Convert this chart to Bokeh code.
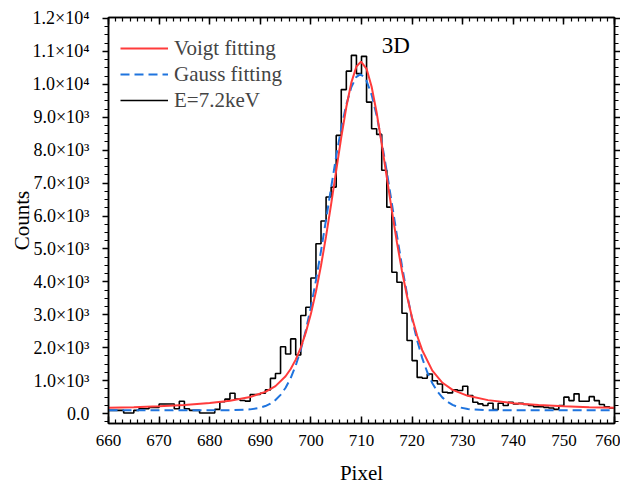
from bokeh.plotting import figure
from bokeh.models import (Range1d, LinearAxis, SingleIntervalTicker, Legend, LegendItem, Label)
from bokeh.embed import file_html
from bokeh.resources import INLINE

# ---- data ----
pixel_edges = list(range(660, 761))
counts = [100, 100, 100, 20, 20, 100, 150, 150, 190, 190,
          290, 290, 290, 150, 375, 150, 100, 100, 20, 20,
          20, 130, 360, 440, 620, 440, 400, 380, 580, 580,
          620, 720, 1070, 1220, 2030, 1810, 2270, 1780, 2980, 3230,
          4120, 5160, 5850, 6580, 6880, 8450, 9840, 10400, 10880, 10325,
          10850, 9460, 8650, 8480, 7390, 6270, 4295, 3990, 3050, 2220,
          1610, 1100, 1075, 1205, 1000, 900, 650, 630, 720, 700,
          830, 550, 345, 295, 245, 315, 120, 315, 245, 345,
          295, 315, 275, 245, 210, 210, 190, 170, 130, 245,
          500, 395, 600, 375, 375, 515, 395, 275, 210, 170]
counts_step = counts + [counts[-1]]

voigt_x = [660, 665, 670, 675, 680, 684, 688, 691, 693, 695, 696, 697, 698, 699,
           700, 701, 702, 703, 704, 705, 706, 707, 708, 709, 709.9, 711, 712, 713,
           714, 715, 716, 717, 718, 719, 720, 721, 722, 724, 726, 728, 731, 735,
           740, 745, 750, 755, 760]
voigt_y = [176, 195, 222, 262, 320, 392, 507, 659, 836, 1134, 1354, 1640, 2005, 2466,
           3030, 3708, 4498, 5390, 6363, 7380, 8387, 9310, 10059, 10543, 10690, 10471, 9927, 9136,
           8189, 7175, 6164, 5205, 4331, 3564, 2909, 2365, 1926, 1306, 936, 720, 540, 410,
           318, 260, 221, 194, 175]

gauss_x = [660, 670, 680, 684, 688, 690, 691, 692, 693, 694, 695, 696, 697, 698, 699,
           700, 701, 702, 703, 704, 705, 706, 707, 708, 709, 709.75, 710.5, 711, 712,
           713, 714, 715, 716, 717, 718, 719, 720, 721, 722, 723, 724, 725, 726,
           727, 728, 729, 731, 735, 745, 760]
gauss_y = [100, 100, 100, 103, 129, 181, 230, 305, 415, 570, 786, 1078, 1459, 1941, 2534,
           3239, 4047, 4943, 5898, 6870, 7811, 8668, 9387, 9920, 10229, 10300, 10229, 10104, 9680,
           9047, 8253, 7347, 6383, 5415, 4486, 3630, 2872, 2224, 1686, 1257, 922, 670, 486,
           355, 264, 203, 138, 100, 100, 100]

y_ticks = list(range(0, 13000, 1000))
y_tick_labels = ["0.0", "1.0×10³", "2.0×10³", "3.0×10³", "4.0×10³", "5.0×10³",
                 "6.0×10³", "7.0×10³", "8.0×10³", "9.0×10³", "1.0×10⁴", "1.1×10⁴", "1.2×10⁴"]

FONT = "Liberation Serif"
RED = "#FF3B3B"
BLUE = "#1F74DE"

p = figure(width=620, height=487, output_backend="svg", toolbar_location=None,
           x_range=Range1d(660, 760), y_range=Range1d(-300, 12030),
           min_border_left=108, min_border_right=0, min_border_top=17, min_border_bottom=58,
           x_axis_label="Pixel", y_axis_label="Counts")
p.grid.visible = False
p.outline_line_color = "black"
p.outline_line_width = 1.5
p.background_fill_color = "white"
p.border_fill_color = "white"

# axes
xa = p.xaxis[0]
xa.ticker = SingleIntervalTicker(interval=10, num_minor_ticks=7)
ya = p.yaxis[0]
ya.ticker = SingleIntervalTicker(interval=1000, num_minor_ticks=4)
ya.major_label_overrides = {t: s for t, s in zip(y_ticks, y_tick_labels)}

for ax in (xa, ya):
    ax.axis_line_width = 1.5
    ax.major_tick_line_width = 1.5
    ax.minor_tick_line_width = 1.2
    ax.major_label_text_font = FONT
    ax.major_label_text_color = "black"
    ax.axis_label_text_font = FONT
    ax.axis_label_text_font_size = "21px"
    ax.axis_label_text_font_style = "normal"
    ax.axis_label_text_color = "black"
xa.major_label_text_font_size = "17px"
ya.major_label_text_font_size = "18px"

xa.major_tick_in = 7
xa.major_tick_out = 0
xa.minor_tick_in = 4
xa.minor_tick_out = 0
xa.major_label_standoff = 11
xa.axis_label_standoff = 12

ya.major_tick_in = 0
ya.major_tick_out = 6
ya.minor_tick_in = 0
ya.minor_tick_out = 4
ya.major_label_standoff = 13
ya.axis_label_standoff = -4

top = LinearAxis(ticker=SingleIntervalTicker(interval=10, num_minor_ticks=7),
                 major_tick_in=7, major_tick_out=0, minor_tick_in=4, minor_tick_out=0,
                 major_label_text_font_size="1px", major_label_text_color=None,
                 major_label_standoff=0,
                 axis_line_width=1.5, major_tick_line_width=1.5, minor_tick_line_width=1.2)
p.add_layout(top, "above")
right = LinearAxis(ticker=SingleIntervalTicker(interval=1000, num_minor_ticks=4),
                   major_tick_in=0, major_tick_out=6, minor_tick_in=0, minor_tick_out=4,
                   major_label_text_font_size="1px", major_label_text_color=None,
                   major_label_standoff=0,
                   axis_line_width=1.5, major_tick_line_width=1.5, minor_tick_line_width=1.2)
p.add_layout(right, "right")

# glyphs
r_hist = p.step(pixel_edges, counts_step, mode="after", line_color="black", line_width=1.6)
r_gauss = p.line(gauss_x, gauss_y, line_color=BLUE, line_width=2, line_dash="9 5")
r_voigt = p.line(voigt_x, voigt_y, line_color=RED, line_width=2)

legend = Legend(items=[LegendItem(label="Voigt fitting", renderers=[r_voigt]),
                       LegendItem(label="Gauss fitting", renderers=[r_gauss]),
                       LegendItem(label="E=7.2keV", renderers=[r_hist])],
                location=(12, 310), margin=0, padding=0, spacing=0,
                label_height=26, glyph_height=26, glyph_width=48, label_standoff=6,
                label_text_font=FONT, label_text_font_size="21px",
                border_line_color=None, background_fill_alpha=0)
p.add_layout(legend, "center")

p.add_layout(Label(x=714, y=11180, text="3D", text_font=FONT, text_font_size="23px",
                   text_baseline="middle", text_color="black"))

open("out.html", "w").write(file_html(p, INLINE))
